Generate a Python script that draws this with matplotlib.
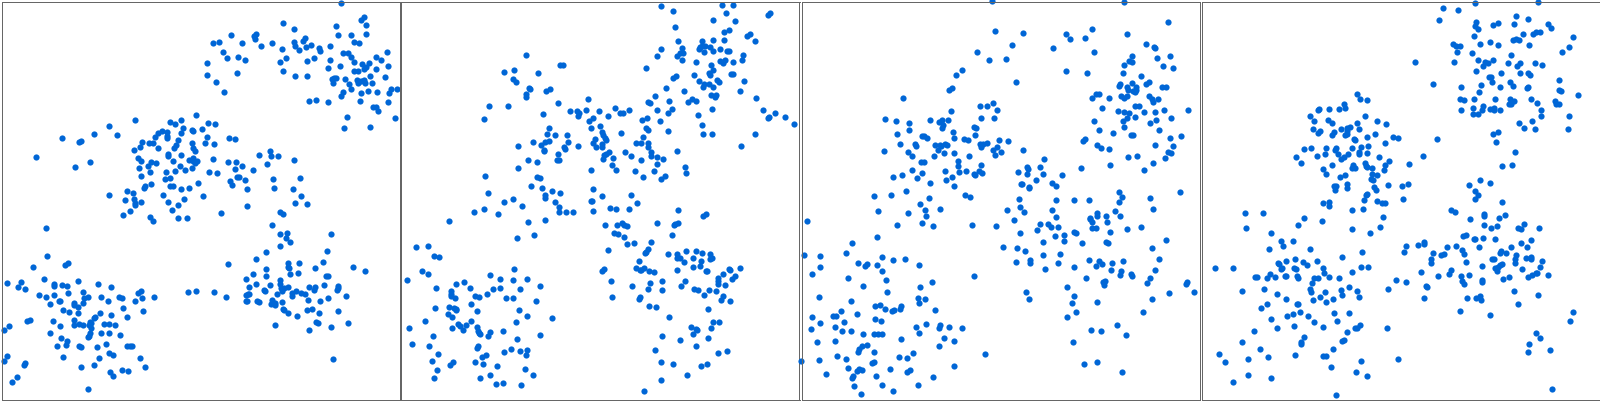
import matplotlib
matplotlib.use("Agg")
import matplotlib.pyplot as plt

panel1_top = [(1022,11),(1091,53),(1082,62),(1097,77),(1007,80),(848,71),(881,89),(1097,104),(1013,107),(1052,107),(692,107),(767,104),(761,110),(764,119),(914,116),(908,125),(881,128),(884,140),(1061,128),(1076,131),(656,128),(638,131),(725,131),(815,131),(782,140),(932,137),(917,143),(989,140),(956,146),(959,155),(845,149),(896,152),(668,158),(1028,161),(1043,161),(1160,158),(1052,173),(1127,173),(1142,182),(680,176),(713,173),(734,182),(857,176),(941,176),(920,185),(839,188),(989,182),(1061,188),(620,191),(1085,194),(1106,191),(1019,200),(1163,200),(1097,203),(1091,209),(983,206),(1127,209),(1061,215),(1073,215),(848,215),(710,221),(620,227),(884,230),(920,230),(1109,230),(1154,233),(1001,236),(995,239),(1007,236),(1034,239),(1070,242),(1091,242),(1082,245),(1073,251),(998,251),(1046,254),(1094,251),(1115,251),(647,248),(1052,269),(1172,269),(1190,269),(671,278),(1103,275),(1130,278),(1028,278),(1082,281),(1166,281),(1022,290),(926,305),(947,302),(983,308),(1079,305),(1163,308),(1118,323),(1127,323),(1133,335),(1040,353),(1184,356),(1031,386),(1109,383)]
panel1_mid = [(404,362),(587,347),(542,362),(509,368),(524,374),(623,371),(644,374),(326,380),(548,386),(605,389),(575,392),(578,395),(485,395),(473,401),(500,398),(542,401),(281,404),(350,407),(464,413),(500,410),(500,416),(620,413),(185,416),(686,416),(704,419),(533,422),(425,428),(446,431),(458,431),(575,431),(614,431),(641,434),(236,428),(242,425),(527,437),(521,446),(419,443),(473,446),(578,446),(401,452),(584,455),(809,455),(107,473),(503,464),(503,470),(542,467),(776,467),(812,470),(833,470),(413,476),(578,476),(566,482),(578,485),(590,485),(638,479),(881,482),(518,485),(422,485),(452,488),(467,491),(269,488),(683,488),(707,488),(584,491),(800,494),(224,503),(443,500),(539,500),(725,500),(416,506),(575,506),(704,509),(554,512),(758,512),(524,515),(497,518),(449,518),(626,518),(650,521),(422,530),(509,536),(494,539),(710,533),(716,533),(734,542),(818,539),(899,536),(689,545),(593,551),(452,554),(695,557),(509,560),(518,560),(434,562),(431,566),(542,569),(566,566),(740,569),(821,566),(878,569),(380,575),(398,581),(326,587),(488,587),(608,590),(902,590),(374,602),(401,599),(551,599),(422,608),(503,608),(404,611),(404,617),(884,611),(920,614),(533,617),(740,620),(389,635),(515,632),(839,638),(848,644),(662,641),(368,647),(449,653),(533,656),(560,656),(458,665)]
panel1_right = [(815,677),(839,704),(860,701),(992,704),(857,716),(869,728),(839,740),(980,755),(797,758),(767,779),(968,788),(683,794),(863,791),(896,791),(863,803),(866,806),(944,806),(1058,803),(797,809),(1094,815),(758,824),(869,824),(893,821),(797,830),(977,830),(983,830),(737,839),(839,842),(839,854),(767,854),(809,857),(746,863),(842,866),(851,866),(863,863),(926,863),(944,863),(971,857),(1013,860),(1013,866),(941,872),(1010,872),(791,872),(794,875),(845,875),(887,875),(875,881),(902,881),(914,884),(830,884),(743,884),(737,887),(746,884),(875,890),(1037,890),(983,896),(923,902),(959,905),(740,905),(737,905),(770,905),(776,908),(815,902),(812,914),(824,911),(845,908),(824,917),(848,929),(851,932),(920,932),(935,929),(863,941),(956,941),(1013,935),(890,950),(947,968),(953,971),(1043,971),(824,977),(992,983),(926,992),(998,1079),(563,878),(587,875),(641,878),(677,893)]
panel1_left = [(137,686),(140,770),(203,791),(194,797),(98,803),(131,839),(20,851),(62,848),(53,863),(74,869),(233,845),(161,854),(161,860),(185,857),(200,860),(293,854),(332,863),(422,875),(413,881),(248,878),(203,881),(116,887),(137,893),(161,887),(263,893),(251,896),(302,893),(356,893),(365,896),(461,893),(425,896),(176,905),(179,905),(323,905),(404,905),(248,911),(149,914),(221,911),(221,917),(233,923),(368,926),(188,932),(206,938),(233,941),(428,935),(299,941),(332,947),(284,953),(281,956),(380,953),(80,965),(89,962),(158,965),(221,962),(269,968),(272,971),(236,974),(248,977),(221,977),(266,977),(311,974),(326,974),(344,977),(179,980),(26,980),(272,986),(11,992),(269,1001),(149,1001),(302,1001),(326,1001),(359,1007),(266,1010),(263,1013),(182,1016),(200,1025),(317,1034),(197,1037),(170,1040),(236,1040),(242,1043),(290,1043),(380,1040),(389,1040),(395,1040),(326,1061),(338,1067),(20,1070),(188,1073),(296,1076),(419,1076),(11,1085),(74,1091),(71,1097),(281,1097),(242,1103),(434,1103),(365,1112),(383,1115),(329,1118),(338,1130),(50,1133),(35,1148),(263,1169)]

panel2_top = [(782,20),(965,17),(998,17),(818,35),(977,41),(1109,41),(1103,47),(938,62),(1004,65),(824,83),(986,92),(971,98),(1049,104),(1040,110),(1064,125),(833,125),(905,125),(938,122),(971,122),(905,140),(899,143),(914,140),(929,143),(845,146),(782,149),(896,149),(959,149),(980,155),(986,155),(938,155),(911,158),(839,161),(848,161),(830,170),(770,170),(1028,167),(1025,182),(845,182),(959,185),(974,182),(968,191),(887,188),(998,188),(932,197),(737,206),(938,212),(926,221),(929,227),(881,227),(992,224),(998,224),(827,230),(818,236),(896,245),(950,242),(956,248),(1031,245),(911,254),(926,254),(908,263),(938,263),(797,266),(851,275),(1019,275),(932,287),(947,287),(944,293),(764,290),(1067,296),(875,299),(863,308),(887,305),(806,305),(743,308),(749,311),(815,329),(770,332),(935,329),(803,341),(1088,332),(1124,341),(893,347),(1154,353),(1106,353),(1103,356),(740,356),(725,362),(779,365),(1181,374),(905,377),(737,386),(743,392),(803,395),(908,404),(935,404),(1064,404),(1022,440),(830,455),(854,503),(857,521)]
panel2_mid = [(377,167),(479,197),(488,197),(311,218),(341,212),(413,221),(338,239),(347,248),(386,266),(389,269),(449,269),(437,275),(377,284),(377,293),(266,320),(323,320),(473,311),(563,299),(251,359),(428,344),(509,335),(530,335),(536,341),(533,350),(557,332),(596,335),(644,326),(659,341),(668,341),(686,332),(623,350),(578,356),(566,365),(599,380),(572,386),(446,386),(605,398),(440,404),(464,407),(500,407),(608,407),(662,401),(614,416),(617,422),(584,419),(728,413),(398,428),(446,425),(434,428),(503,428),(422,437),(353,440),(533,440),(578,431),(605,434),(605,443),(587,443),(707,431),(722,431),(743,431),(743,443),(491,443),(494,449),(431,452),(431,455),(752,458),(626,458),(617,464),(611,467),(473,464),(674,458),(692,470),(752,470),(770,473),(788,479),(638,476),(608,479),(722,482),(383,482),(410,488),(470,482),(476,482),(770,494),(635,497),(353,506),(572,512),(647,512),(704,515),(761,515),(794,530),(782,539),(728,533),(254,530),(410,533),(419,536),(392,560),(425,566),(578,569),(455,575),(479,581),(263,581),(434,587),(434,596),(692,587),(605,590),(338,599),(311,608),(464,608),(572,605),(575,605),(710,611),(365,620),(476,623),(629,626),(647,629),(686,629),(251,629),(221,638),(293,644),(476,638),(497,638),(518,638),(578,635),(833,632),(917,644),(908,650),(146,665),(383,668),(434,662),(614,677),(650,677),(665,671),(671,677),(680,680),(770,671),(821,677),(824,674),(833,671),(641,701),(653,704),(671,713),(815,707),(401,707),(350,716),(680,734),(701,731),(752,728)]
panel2_right = [(623,752),(743,749),(737,758),(734,761),(857,755),(887,755),(905,761),(929,764),(803,764),(830,764),(830,776),(839,776),(878,776),(929,779),(935,776),(716,785),(902,785),(851,788),(878,803),(899,800),(707,806),(731,806),(722,812),(719,812),(611,809),(605,815),(746,815),(761,818),(830,812),(917,815),(920,815),(986,809),(989,812),(1019,806),(968,824),(1004,830),(953,836),(995,839),(953,845),(632,845),(785,845),(854,845),(749,851),(953,854),(974,857),(695,860),(842,860),(743,869),(785,872),(881,869),(893,872),(926,872),(947,875),(911,887),(968,890),(635,893),(719,893),(716,899),(962,902),(989,905),(746,920),(767,923),(923,929),(806,953),(938,968),(956,968),(872,983),(887,989),(890,992),(932,986),(878,1004),(785,1010),(923,1016),(839,1022),(887,1040),(764,1052),(980,1055),(953,1061),(782,1088),(818,1094),(920,1094),(902,1100),(860,1127),(782,1142),(731,1175)]
panel2_left = [(47,743),(83,740),(101,770),(116,773),(65,815),(83,824),(341,809),(20,842),(269,827),(299,839),(338,842),(380,839),(191,848),(167,854),(419,860),(107,866),(209,866),(278,869),(299,866),(359,869),(152,875),(152,884),(260,884),(152,890),(224,890),(236,893),(164,896),(317,896),(338,896),(407,905),(212,914),(146,923),(104,926),(161,926),(167,929),(167,932),(230,935),(356,932),(143,944),(155,953),(380,950),(455,956),(74,965),(212,965),(347,968),(173,974),(179,980),(197,977),(155,986),(26,986),(188,992),(230,983),(233,995),(236,1001),(239,1004),(269,998),(308,995),(263,1010),(98,1010),(419,1007),(350,1019),(35,1034),(86,1040),(233,1040),(230,1046),(332,1049),(311,1058),(359,1055),(380,1052),(113,1064),(257,1067),(245,1073),(377,1067),(95,1085),(158,1088),(149,1097),(224,1088),(248,1094),(290,1100),(110,1112),(374,1109),(269,1127),(398,1127),(101,1136),(239,1136),(287,1154),(308,1151),(362,1157)]

panel3_top = [(575,5),(971,8),(1103,68),(584,95),(668,101),(875,89),(797,104),(980,104),(809,119),(854,116),(1037,134),(1061,143),(1064,146),(635,137),(758,146),(530,158),(881,158),(995,170),(1109,170),(1070,176),(566,182),(617,179),(986,185),(995,188),(971,197),(1088,200),(1118,206),(485,212),(797,215),(860,221),(968,221),(467,227),(1022,230),(647,248),(995,251),(1046,248),(1037,254),(959,254),(956,260),(1085,263),(1097,263),(980,263),(455,266),(446,272),(1007,263),(983,272),(1007,272),(998,275),(1004,278),(887,284),(896,284),(962,290),(980,290),(1046,290),(875,296),(926,296),(971,296),(1055,299),(1073,299),(1058,308),(308,296),(1004,320),(1016,320),(905,326),(1091,332),(1163,332),(953,335),(971,338),(986,341),(1031,338),(1064,338),(1004,353),(980,356),(1112,356),(968,365),(881,365),(1067,362),(1049,371),(971,383),(896,392),(1076,392),(938,401),(992,407),(998,407),(1142,410),(1109,416),(854,419),(848,425),(890,437),(1064,437),(1118,440),(902,446),(926,449),(1103,458),(1112,461),(983,473),(1010,470),(1094,476),(1058,491),(929,497),(842,506),(1031,512)]
panel3_mid = [(578,311),(539,320),(560,320),(590,332),(452,335),(254,359),(542,356),(581,356),(287,365),(326,371),(389,362),(425,362),(416,368),(443,362),(428,377),(425,386),(521,383),(527,386),(326,392),(458,398),(290,404),(365,410),(371,410),(380,416),(461,416),(524,407),(491,419),(503,422),(596,422),(623,425),(299,434),(344,434),(347,440),(404,437),(419,437),(422,440),(434,434),(440,437),(539,434),(548,434),(560,431),(542,443),(590,443),(413,452),(578,452),(251,455),(323,458),(431,461),(461,461),(602,458),(335,470),(401,470),(506,470),(584,467),(473,485),(362,488),(371,488),(473,500),(542,497),(335,512),(434,515),(497,515),(476,518),(536,515),(545,521),(521,524),(524,527),(365,521),(305,527),(278,533),(350,536),(455,533),(437,542),(389,551),(461,560),(272,587),(317,575),(221,590),(494,587),(509,593),(386,596),(359,614),(419,629),(374,632),(233,635),(323,641),(377,650),(365,671),(290,677),(398,680),(20,665),(515,677),(587,680),(230,713)]
panel3_right = [(668,452),(731,479),(680,503),(683,509),(719,503),(653,518),(680,524),(728,524),(785,527),(707,542),(662,554),(665,554),(755,551),(767,560),(686,563),(686,566),(956,578),(1139,578),(965,593),(1049,596),(656,599),(767,602),(821,602),(866,602),(956,608),(659,623),(620,632),(671,638),(755,632),(1058,629),(944,635),(890,641),(890,650),(917,650),(959,650),(767,653),(869,656),(869,659),(641,662),(875,668),(920,668),(719,674),(743,674),(752,683),(773,683),(875,686),(887,686),(1022,683),(980,689),(710,692),(821,698),(827,701),(929,698),(659,701),(791,707),(764,710),(728,728),(791,725),(917,728),(923,731),(845,731),(1097,722),(608,743),(650,746),(1055,746),(674,755),(728,767),(779,764),(1076,779),(689,782),(866,782),(896,785),(968,785),(647,788),(689,791),(773,791),(935,791),(905,794),(887,800),(821,803),(734,809),(1064,812),(932,812),(962,815),(959,827),(992,824),(995,830),(857,836),(1049,836),(1040,851),(914,845),(908,848),(911,857),(1160,848),(1157,854),(800,863),(677,878),(1181,878),(1106,881),(821,890),(686,899),(1055,899),(890,908),(815,911),(827,938),(1028,938),(800,953),(950,977),(872,992),(902,995),(977,1007),(818,1028),(851,1094),(890,1088),(965,1118)]
panel3_left = [(155,731),(137,761),(11,767),(59,770),(245,773),(278,782),(314,779),(173,791),(200,794),(194,800),(230,797),(356,797),(59,803),(245,815),(35,824),(143,836),(521,830),(257,842),(395,848),(188,860),(359,863),(260,878),(56,893),(353,896),(374,899),(152,905),(356,911),(224,920),(239,917),(302,920),(299,929),(254,929),(281,932),(275,935),(404,932),(122,935),(170,944),(98,950),(107,950),(35,953),(224,959),(242,965),(131,968),(59,971),(377,974),(419,977),(416,986),(347,983),(446,983),(485,986),(104,983),(32,989),(125,995),(152,995),(188,1004),(221,1004),(233,1004),(245,1004),(356,1001),(431,1016),(302,1019),(50,1028),(104,1025),(461,1025),(185,1040),(200,1037),(416,1040),(176,1049),(173,1058),(221,1058),(554,1064),(110,1070),(338,1061),(296,1073),(320,1076),(137,1079),(56,1082),(2,1085),(221,1088),(215,1091),(461,1100),(143,1106),(176,1109),(185,1112),(170,1115),(269,1109),(329,1112),(320,1118),(77,1124),(158,1130),(155,1136),(227,1130),(398,1133),(161,1160),(245,1157),(353,1157),(278,1175),(182,1184)]

panel4_top = [(824,11),(1013,8),(728,26),(773,32),(947,50),(716,62),(983,59),(827,68),(824,80),(878,77),(893,71),(941,74),(1043,74),(833,89),(1052,86),(968,104),(998,104),(1007,98),(1019,98),(821,110),(1118,113),(938,122),(947,119),(956,122),(869,128),(758,134),(767,140),(779,140),(839,134),(893,137),(986,137),(1106,143),(770,158),(815,161),(1085,158),(932,167),(833,182),(878,182),(644,188),(761,188),(854,188),(863,191),(923,191),(1004,191),(959,191),(950,200),(848,200),(1025,197),(827,215),(902,221),(959,221),(983,221),(989,227),(866,233),(872,233),(875,248),(929,248),(1076,242),(698,254),(842,257),(938,260),(782,263),(899,263),(983,263),(980,266),(1076,272),(1082,275),(836,278),(1133,287),(779,299),(791,302),(821,299),(884,299),(929,299),(941,305),(992,299),(1064,305),(932,314),(926,314),(1010,311),(1067,314),(1076,314),(848,320),(818,326),(869,329),(881,326),(881,332),(899,332),(1022,332),(782,332),(845,332),(818,344),(833,344),(1022,350),(1106,350),(956,371),(995,365),(971,386),(1004,389),(1103,389),(893,398),(878,404),(710,419),(887,428),(944,458),(668,470),(935,497),(905,500)]
panel4_mid = [(470,284),(479,299),(500,302),(431,314),(434,326),(353,332),(356,329),(386,329),(416,329),(329,350),(494,350),(341,365),(383,362),(530,365),(395,371),(470,371),(557,374),(449,383),(440,386),(422,389),(338,389),(476,389),(440,395),(359,395),(353,401),(401,398),(395,407),(434,407),(440,404),(524,404),(500,413),(578,413),(593,416),(461,419),(464,422),(554,431),(503,440),(482,443),(332,446),(311,449),(377,446),(407,446),(404,452),(455,446),(476,458),(476,464),(500,461),(443,464),(374,464),(413,464),(350,470),(431,473),(422,479),(536,473),(287,473),(566,485),(302,491),(494,491),(626,494),(395,497),(554,497),(458,497),(497,500),(500,503),(455,506),(464,506),(515,506),(368,509),(551,512),(377,524),(515,524),(530,527),(434,527),(419,533),(512,539),(518,542),(440,554),(563,557),(605,560),(623,554),(401,560),(407,560),(440,566),(404,572),(521,563),(527,572),(500,584),(497,587),(608,599),(491,602),(530,605),(545,611),(554,611),(368,611),(386,608),(386,620),(455,632),(488,629),(548,653),(539,683),(455,689),(509,701),(365,665)]
panel4_right = [(839,542),(869,551),(806,557),(824,575),(833,587),(824,599),(905,608),(752,632),(764,638),(851,644),(851,650),(914,647),(896,656),(809,659),(851,677),(971,674),(890,680),(872,686),(953,686),(962,689),(1016,686),(788,710),(797,707),(821,719),(824,719),(848,716),(884,719),(992,722),(671,728),(671,734),(653,737),(617,740),(962,731),(740,743),(767,740),(836,743),(932,743),(980,743),(785,752),(611,758),(698,761),(902,755),(899,761),(917,761),(791,764),(731,764),(722,767),(947,767),(692,779),(875,779),(881,779),(977,776),(992,773),(992,779),(944,779),(1025,785),(692,791),(797,788),(944,791),(905,794),(899,797),(845,800),(884,806),(893,803),(965,809),(1019,803),(752,812),(746,824),(662,818),(890,815),(1007,821),(1010,821),(995,827),(983,833),(713,830),(782,830),(806,827),(926,833),(1043,827),(908,839),(785,845),(845,842),(845,848),(791,854),(677,860),(680,863),(941,875),(563,869),(587,842),(617,848),(1013,887),(671,896),(800,896),(827,896),(839,890),(842,902),(953,914),(779,935),(869,947),(1118,938),(1109,965),(1007,1001),(1019,1016),(986,1034),(1049,1052),(983,1058),(1055,1169)]
panel4_left = [(134,641),(188,641),(311,656),(293,677),(137,686),(212,701),(242,725),(278,725),(248,740),(206,749),(329,749),(485,758),(425,773),(284,779),(257,785),(308,788),(350,785),(233,791),(236,794),(320,797),(245,806),(242,809),(281,806),(287,809),(368,806),(44,806),(98,806),(482,803),(503,803),(371,821),(455,818),(209,824),(164,833),(170,833),(224,833),(254,830),(257,830),(290,830),(293,836),(386,833),(200,836),(341,836),(353,836),(416,836),(335,851),(446,863),(191,869),(329,869),(332,878),(125,875),(422,872),(470,875),(374,878),(230,884),(425,887),(476,893),(257,899),(338,902),(359,893),(398,899),(377,908),(290,914),(293,914),(200,914),(182,926),(299,938),(278,944),(260,950),(323,950),(401,941),(446,941),(212,959),(341,968),(410,965),(281,980),(368,983),(230,986),(479,977),(464,986),(470,986),(560,986),(161,995),(440,998),(311,1013),(125,1028),(302,1028),(302,1034),(431,1022),(425,1025),(179,1049),(398,1049),(56,1064),(284,1067),(203,1073),(368,1070),(377,1070),(143,1079),(593,1079),(482,1085),(74,1088),(392,1103),(143,1127),(467,1118),(500,1130),(212,1136),(98,1148),(407,1187)]

panels = [
    panel1_top + panel1_mid + panel1_right + panel1_left,
    panel2_top + panel2_mid + panel2_right + panel2_left,
    panel3_top + panel3_mid + panel3_right + panel3_left,
    panel4_top + panel4_mid + panel4_right + panel4_left,
]

W, H = 1600, 402
fig = plt.figure(figsize=(W / 100, H / 100), dpi=100, facecolor="white")
for i, pts in enumerate(panels):
    left = (1.5 + 400 * i) / W
    ax = fig.add_axes([left, 1.5 / H, 398.0 / W, 398.0 / H])
    xs, ys = zip(*pts)
    ax.scatter(xs, ys, s=20, color="#0066d6", linewidths=0, clip_on=False, zorder=1.5)
    ax.set_xlim(4.5, 1198.5)
    ax.set_ylim(1201.5, 7.5)
    ax.set_xticks([])
    ax.set_yticks([])
    for sp in ax.spines.values():
        sp.set_color("#666666")
        sp.set_linewidth(0.72)
        sp.set_zorder(3)
fig.savefig("out.png", dpi=100)
